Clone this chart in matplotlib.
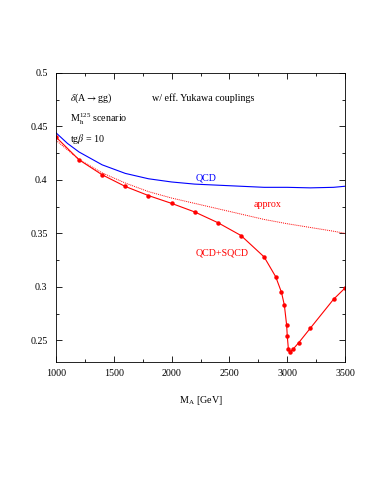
import matplotlib
matplotlib.use("Agg")
import matplotlib.pyplot as plt
from matplotlib.ticker import MultipleLocator

plt.rcParams["font.family"] = ["Liberation Serif", "DejaVu Serif"]
plt.rcParams["mathtext.fontset"] = "stix"

# QCD only (blue)
ma_qcd = [1000, 1100, 1200, 1400, 1600, 1800, 2000, 2200, 2400, 2600, 2800, 3000, 3200, 3400, 3500]
d_qcd = [0.444, 0.434, 0.426, 0.414, 0.406, 0.401, 0.398, 0.396, 0.395, 0.394, 0.393, 0.393, 0.3925, 0.393, 0.394]

# approximation (dotted red)
ma_approx = [1000, 1200, 1400, 1600, 1800, 2000, 2200, 2400, 2600, 2800, 3000, 3200, 3400, 3500]
d_approx = [0.437, 0.419, 0.4065, 0.397, 0.389, 0.383, 0.378, 0.373, 0.368, 0.363, 0.359, 0.3555, 0.352, 0.350]

# QCD+SQCD (red, with points)
ma_sqcd = [1000, 1200, 1400, 1600, 1800, 2000, 2200, 2400, 2600, 2800, 2900, 2950, 2975,
           2995, 3000, 3010, 3025, 3050, 3100, 3200, 3400, 3500]
d_sqcd = [0.440, 0.4187, 0.4047, 0.3938, 0.3853, 0.378, 0.370, 0.360, 0.348, 0.328, 0.3095, 0.295, 0.283,
          0.264, 0.2543, 0.2418, 0.2396, 0.2418, 0.248, 0.2615, 0.2884, 0.299]

fs = 7.2

fig = plt.figure(figsize=(3.83, 4.95), dpi=100)
ax = fig.add_axes([0.146, 0.269, 0.755, 0.584])

ax.plot(ma_qcd, d_qcd, color="blue", lw=0.8)
ax.plot(ma_approx, d_approx, color="red", lw=0.7, ls=(0, (1, 1)))
ax.plot(ma_sqcd, d_sqcd, color="red", lw=0.8, marker="o", ms=2.2)

ax.set_xlim(1000, 3500)
ax.set_ylim(0.23, 0.5)
ax.xaxis.set_major_locator(MultipleLocator(500))
ax.xaxis.set_minor_locator(MultipleLocator(250))
ax.yaxis.set_minor_locator(MultipleLocator(0.025))
ax.set_yticks([0.25, 0.3, 0.35, 0.4, 0.45, 0.5])
ax.set_yticklabels(["0.25", "0.3", "0.35", "0.4", "0.45", "0.5"])
ax.tick_params(which="both", direction="in", top=True, right=True, labelsize=fs)
ax.tick_params(axis="x", pad=5)
ax.tick_params(axis="y", pad=6)
ax.tick_params(which="major", length=4, width=0.6)
ax.tick_params(which="minor", length=2, width=0.6)
for s in ax.spines.values():
    s.set_linewidth(0.6)

ax.text(1120, 0.4735, r"$\delta$(A$\rightarrow$gg)", fontsize=fs)
ax.text(1835, 0.4735, "w/ eff. Yukawa couplings", fontsize=fs)
ax.text(1120, 0.454, r"M$_\mathregular{h}^\mathregular{125}$ scenario", fontsize=fs)
ax.text(1120, 0.435, r"tg$\beta$ = 10", fontsize=fs)
ax.text(2205, 0.3995, "QCD", color="blue", fontsize=fs)
ax.text(2705, 0.3745, "approx", color="red", fontsize=fs)
ax.text(2205, 0.3295, "QCD+SQCD", color="red", fontsize=fs)

ax.set_xlabel(r"M$_\mathregular{A}$ [GeV]", fontsize=fs, labelpad=12)

fig.savefig("out.png", dpi=100)
